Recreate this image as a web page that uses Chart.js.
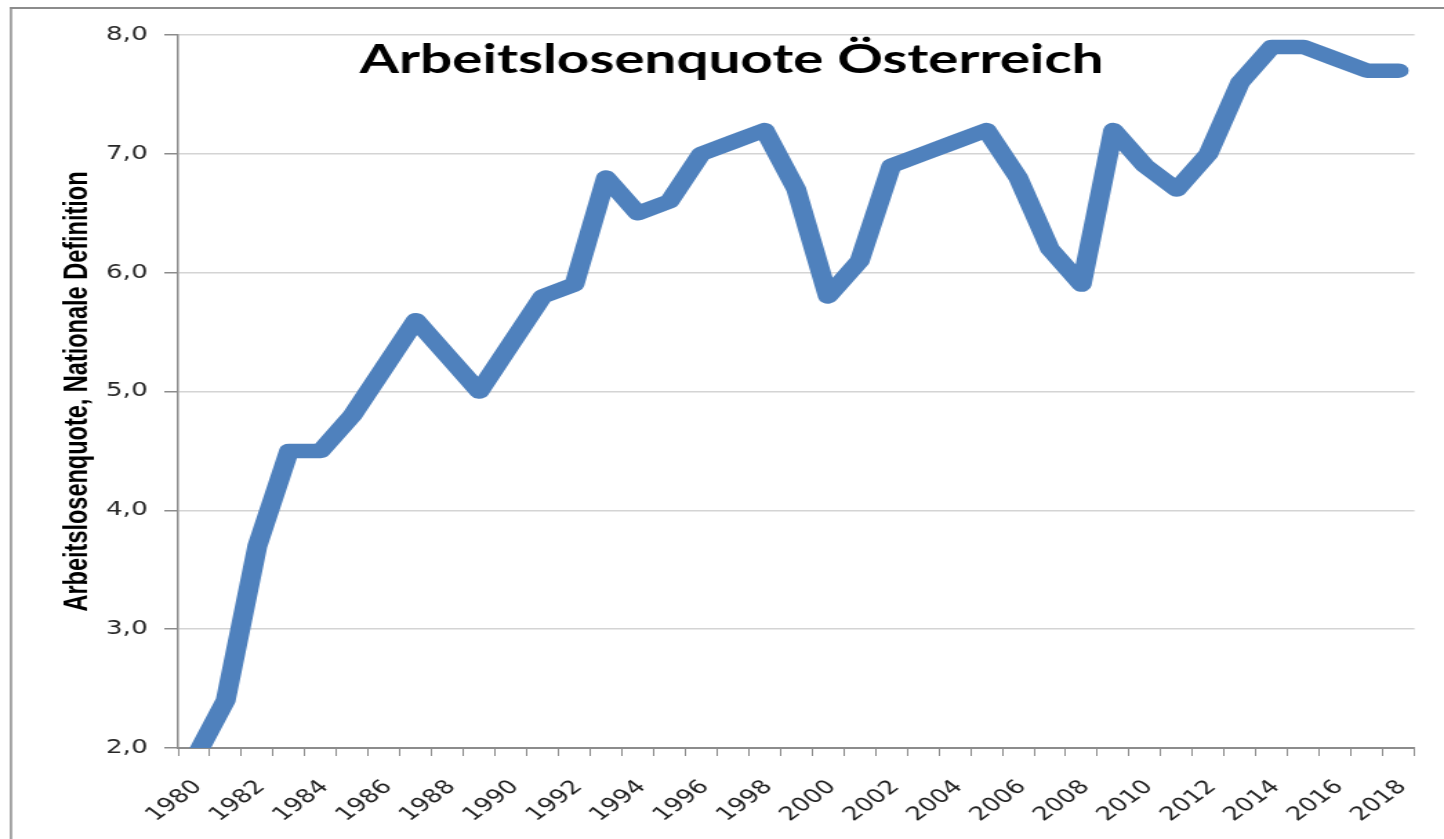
<!DOCTYPE html>
<html>
<head>
<meta charset="utf-8">
<script src="https://cdn.jsdelivr.net/npm/chart.js@4.4.1/dist/chart.umd.min.js"></script>
<style>
  html, body { margin: 0; padding: 0; background: #ffffff; overflow: hidden; }
  #wrap { position: relative; width: 1444px; height: 839px; }
</style>
</head>
<body>
<div id="wrap"><canvas id="c" width="1046" height="839" style="position:absolute;left:0;top:0;width:1444px;height:839px;"></canvas></div>
<script>
// ---- data ----
const years = ['1980','1981','1982','1983','1984','1985','1986','1987','1988','1989',
               '1990','1991','1992','1993','1994','1995','1996','1997','1998','1999',
               '2000','2001','2002','2003','2004','2005','2006','2007','2008','2009',
               '2010','2011','2012','2013','2014','2015','2016','2017','2018'];
const quote = [1.9, 2.4, 3.7, 4.5, 4.5, 4.8, 5.2, 5.6, 5.3, 5.0,
               5.4, 5.8, 5.9, 6.8, 6.5, 6.6, 7.0, 7.1, 7.2, 6.7,
               5.8, 6.1, 6.9, 7.0, 7.1, 7.2, 6.8, 6.2, 5.9, 7.2,
               6.9, 6.7, 7.0, 7.6, 7.9, 7.9, 7.8, 7.7, 7.7];
const yTicks = [2, 3, 4, 5, 6, 7, 8];
const chartTitle = 'Arbeitslosenquote Österreich';
const yAxisTitle = 'Arbeitslosenquote, Nationale Definition';

const frame = {
  id: 'frame',
  beforeDraw(chart) {
    const ctx = chart.ctx;
    ctx.save();
    ctx.fillStyle = '#ffffff';
    ctx.fillRect(0, 0, chart.width, chart.height);
    ctx.fillStyle = '#8c8c8c';
    ctx.fillRect(7.2, 7, 1.5, chart.height);
    ctx.fillRect(7.2, 7, chart.width, 2);
    ctx.restore();
  }
};
const overlayTitle = {
  id: 'overlayTitle',
  afterDraw(chart) {
    const ctx = chart.ctx;
    ctx.save();
    ctx.font = 'bold 41px Lato';
    ctx.fillStyle = '#000000';
    ctx.textAlign = 'center';
    ctx.textBaseline = 'alphabetic';
    ctx.fillText(chartTitle, 530, 73);
    ctx.restore();
  }
};

new Chart(document.getElementById('c'), {
  type: 'line',
  data: {
    labels: years,
    datasets: [{
      data: quote,
      borderColor: '#4f81bd',
      borderWidth: 14.5,
      borderJoinStyle: 'round',
      borderCapStyle: 'round',
      pointRadius: 0,
      tension: 0,
      fill: false,
      clip: 0
    }]
  },
  options: {
    responsive: false,
    devicePixelRatio: 1,
    animation: false,
    layout: { padding: { top: 35, right: 21.4, bottom: 0, left: 0 } },
    plugins: { legend: { display: false }, tooltip: { enabled: false }, title: { display: false } },
    scales: {
      x: {
        type: 'category',
        offset: true,
        afterFit(s) { s.height = 91; s.paddingLeft = 0; s.paddingRight = 0; },
        grid: { display: true, offset: true, drawOnChartArea: false, drawTicks: true, tickLength: 8, color: '#8c8c8c', lineWidth: 1 },
        border: { display: true, color: '#8c8c8c', width: 2 },
        ticks: {
          autoSkip: false,
          maxRotation: 45,
          minRotation: 45,
          padding: 20,
          labelOffset: 3,
          color: '#1f1f1f',
          font: { family: 'DejaVu Sans', size: 19 },
          callback(val, idx) { return idx % 2 === 0 ? this.getLabelForValue(val) : ''; }
        }
      },
      y: {
        min: 2,
        max: 8,
        afterFit(s) { s.width = 129; s.paddingTop = 0; s.paddingBottom = 0; },
        afterBuildTicks(s) { s.ticks = yTicks.map(v => ({ value: v })); },
        grid: { color: '#d4d4d4', lineWidth: 1.5, tickColor: '#8c8c8c', tickLength: 10, drawTicks: true },
        border: { display: true, color: '#8c8c8c', width: 1.5 },
        ticks: {
          padding: 12,
          color: '#262626',
          font: { family: 'DejaVu Sans', size: 19 },
          callback(v) { return Number(v).toFixed(1).replace('.', ','); }
        },
        title: {
          display: true,
          text: yAxisTitle,
          color: '#000000',
          font: { family: 'Liberation Sans', size: 23.5, weight: 'bold' },
          padding: { top: 42, bottom: 0 }
        }
      }
    }
  },
  plugins: [frame, overlayTitle]
});
</script>
</body>
</html>
